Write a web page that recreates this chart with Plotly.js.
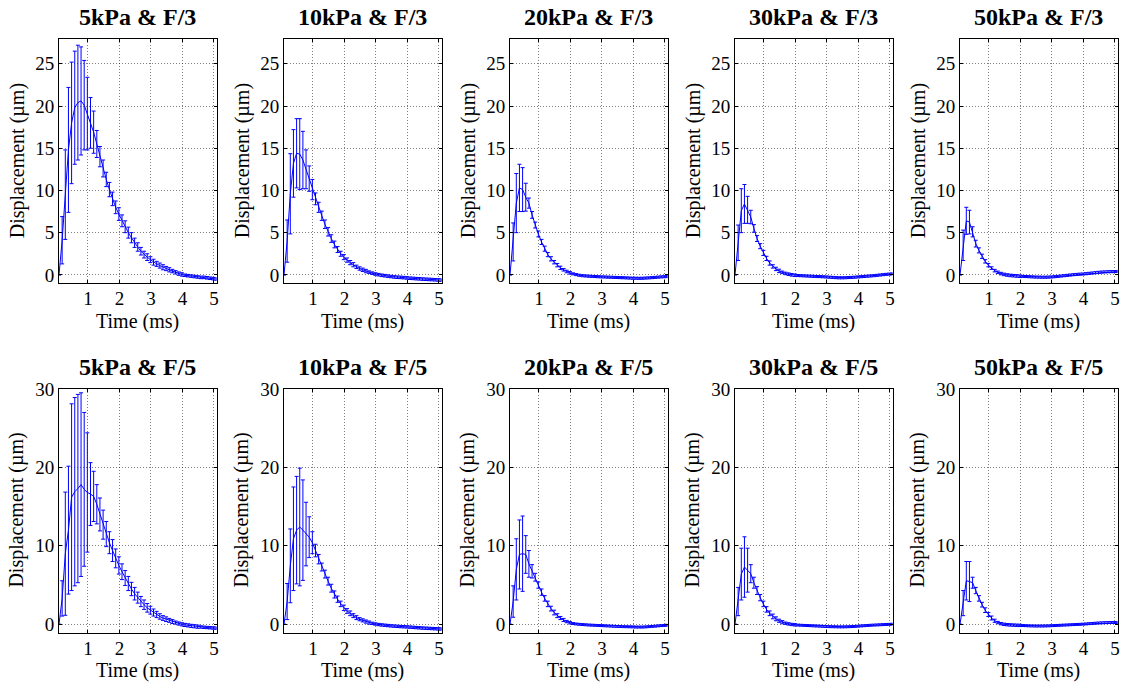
<!DOCTYPE html>
<html>
<head>
<meta charset="utf-8">
<script src="https://cdn.plot.ly/plotly-3.0.1.min.js"></script>
<style>
  html, body { margin: 0; padding: 0; background: #ffffff; }
  #chart { width: 1124px; height: 685px; }
</style>
</head>
<body>
<div id="chart"></div>
<script>
// Sample times (ms)
const timeMs = [0.08, 0.18, 0.28, 0.38, 0.48, 0.58, 0.68, 0.78, 0.88, 0.98,
  1.08, 1.18, 1.28, 1.38, 1.48, 1.58, 1.68, 1.78, 1.88, 1.98,
  2.08, 2.18, 2.28, 2.38, 2.48, 2.58, 2.68, 2.78, 2.88, 2.98,
  3.08, 3.18, 3.28, 3.38, 3.48, 3.58, 3.68, 3.78, 3.88, 3.98,
  4.08, 4.18, 4.28, 4.38, 4.48, 4.58, 4.68, 4.78, 4.88, 4.98, 5.08];

// Mean displacement (µm) and standard deviation, force F/3
const disp5kPaF3 = [0, 4.1, 9.5, 14.8, 18.0, 19.8, 20.4, 20.6, 20.1, 19.1,
  18.0, 16.9, 15.5, 14.0, 12.6, 11.3, 10.1, 9.0, 8.0, 7.2,
  6.4, 5.7, 5.0, 4.4, 3.8, 3.3, 2.8, 2.4, 2.1, 1.8,
  1.5, 1.3, 1.1, 0.9, 0.75, 0.6, 0.45, 0.3, 0.15, 0.05,
  -0.05, -0.1, -0.15, -0.2, -0.25, -0.3, -0.3, -0.35, -0.4, -0.45, -0.5];
const sd5kPaF3 = [0, 2.8, 5.3, 7.4, 7.2, 6.7, 6.8, 6.4, 5.3, 4.3,
  3.0, 2.5, 1.6, 1.2, 1.0, 0.85, 0.85, 0.8, 0.75, 0.75,
  0.7, 0.7, 0.65, 0.6, 0.55, 0.5, 0.45, 0.4, 0.4, 0.35,
  0.35, 0.3, 0.3, 0.3, 0.25, 0.25, 0.2, 0.2, 0.2, 0.2,
  0.15, 0.15, 0.15, 0.15, 0.15, 0.15, 0.15, 0.15, 0.15, 0.15, 0.15];

const disp10kPaF3 = [0, 4.0, 9.6, 13.2, 14.4, 14.3, 13.6, 12.5, 11.4, 10.1,
  9.0, 8.0, 7.0, 6.0, 5.1, 4.3, 3.6, 3.0, 2.5, 2.1,
  1.75, 1.45, 1.2, 0.95, 0.75, 0.6, 0.45, 0.32, 0.2, 0.1,
  0.02, -0.05, -0.1, -0.15, -0.2, -0.25, -0.28, -0.3, -0.33, -0.36,
  -0.4, -0.42, -0.45, -0.47, -0.5, -0.52, -0.54, -0.56, -0.58, -0.6, -0.62];
const sd10kPaF3 = [0, 2.5, 4.75, 4.0, 4.1, 4.2, 3.4, 2.3, 1.5, 1.2,
  0.7, 0.6, 0.55, 0.5, 0.5, 0.45, 0.4, 0.35, 0.3, 0.3,
  0.25, 0.25, 0.25, 0.2, 0.2, 0.2, 0.2, 0.15, 0.15, 0.15,
  0.15, 0.15, 0.15, 0.15, 0.15, 0.15, 0.15, 0.15, 0.15, 0.15,
  0.15, 0.15, 0.15, 0.15, 0.15, 0.15, 0.15, 0.15, 0.15, 0.15, 0.15];

const disp20kPaF3 = [0, 3.9, 8.5, 10.3, 10.1, 9.2, 8.5, 7.1, 5.9, 4.85,
  3.9, 3.1, 2.4, 1.9, 1.5, 1.15, 0.83, 0.6, 0.4, 0.24,
  0.12, 0.03, -0.05, -0.1, -0.13, -0.16, -0.18, -0.2, -0.22, -0.24,
  -0.25, -0.27, -0.28, -0.3, -0.31, -0.33, -0.34, -0.36, -0.38, -0.4,
  -0.4, -0.41, -0.4, -0.38, -0.36, -0.33, -0.3, -0.27, -0.24, -0.22, -0.2];
const sd20kPaF3 = [0, 2.25, 3.5, 2.8, 2.6, 1.65, 0.6, 0.4, 0.35, 0.35,
  0.3, 0.3, 0.25, 0.25, 0.2, 0.2, 0.2, 0.15, 0.15, 0.15,
  0.12, 0.12, 0.12, 0.12, 0.12, 0.12, 0.12, 0.12, 0.12, 0.12,
  0.12, 0.12, 0.12, 0.12, 0.12, 0.12, 0.12, 0.12, 0.12, 0.12,
  0.12, 0.12, 0.12, 0.12, 0.12, 0.12, 0.12, 0.12, 0.12, 0.12, 0.12];

const disp30kPaF3 = [0, 3.8, 7.6, 8.4, 7.7, 6.85, 5.5, 4.3, 3.4, 2.6,
  1.95, 1.4, 1.0, 0.7, 0.47, 0.3, 0.17, 0.08, 0.0, -0.05,
  -0.08, -0.1, -0.12, -0.14, -0.16, -0.18, -0.2, -0.21, -0.23, -0.25,
  -0.28, -0.3, -0.33, -0.35, -0.35, -0.34, -0.32, -0.3, -0.28, -0.25,
  -0.22, -0.19, -0.16, -0.13, -0.1, -0.06, -0.02, 0.02, 0.06, 0.09, 0.12];
const sd30kPaF3 = [0, 2.1, 2.6, 2.3, 1.6, 0.8, 0.45, 0.35, 0.3, 0.3,
  0.25, 0.25, 0.2, 0.2, 0.2, 0.15, 0.15, 0.15, 0.15, 0.15,
  0.12, 0.12, 0.12, 0.12, 0.12, 0.12, 0.12, 0.12, 0.12, 0.12,
  0.12, 0.12, 0.12, 0.12, 0.12, 0.12, 0.12, 0.12, 0.12, 0.12,
  0.12, 0.12, 0.12, 0.12, 0.12, 0.12, 0.12, 0.12, 0.12, 0.12, 0.12];

const disp50kPaF3 = [0, 3.5, 6.4, 6.25, 5.1, 3.7, 2.9, 2.2, 1.6, 1.15,
  0.8, 0.5, 0.3, 0.15, 0.05, -0.02, -0.07, -0.1, -0.13, -0.16,
  -0.18, -0.2, -0.22, -0.24, -0.26, -0.27, -0.28, -0.28, -0.27, -0.25,
  -0.22, -0.18, -0.14, -0.1, -0.06, -0.02, 0.02, 0.05, 0.08, 0.1,
  0.14, 0.18, 0.22, 0.26, 0.3, 0.33, 0.35, 0.37, 0.38, 0.39, 0.4];
const sd50kPaF3 = [0, 1.8, 1.6, 1.4, 0.6, 0.4, 0.3, 0.25, 0.2, 0.2,
  0.15, 0.15, 0.15, 0.15, 0.15, 0.15, 0.15, 0.15, 0.15, 0.15,
  0.12, 0.12, 0.12, 0.12, 0.12, 0.12, 0.12, 0.12, 0.12, 0.12,
  0.12, 0.12, 0.12, 0.12, 0.12, 0.12, 0.12, 0.12, 0.12, 0.12,
  0.12, 0.12, 0.12, 0.12, 0.12, 0.12, 0.12, 0.12, 0.12, 0.12, 0.12];

// Mean displacement (µm) and standard deviation, force F/5
const disp5kPaF5 = [0, 3.3, 9.0, 12.0, 16.2, 16.9, 17.3, 17.8, 17.2, 16.8,
  16.6, 16.3, 15.3, 14.0, 12.7, 11.5, 10.4, 9.4, 8.4, 7.5,
  6.7, 5.9, 5.2, 4.5, 3.9, 3.4, 2.9, 2.5, 2.1, 1.8,
  1.5, 1.25, 1.0, 0.8, 0.65, 0.5, 0.35, 0.22, 0.1, 0.0,
  -0.08, -0.14, -0.2, -0.25, -0.3, -0.34, -0.38, -0.41, -0.44, -0.47, -0.5];
const sd5kPaF5 = [0, 2.25, 7.85, 8.15, 11.9, 12.0, 12.0, 11.7, 9.8, 7.6,
  4.0, 3.2, 2.5, 2.1, 1.85, 1.6, 1.4, 1.4, 1.2, 1.1,
  1.0, 0.95, 0.9, 0.85, 0.8, 0.7, 0.65, 0.6, 0.55, 0.5,
  0.45, 0.4, 0.35, 0.3, 0.3, 0.25, 0.25, 0.2, 0.2, 0.2,
  0.2, 0.2, 0.2, 0.2, 0.2, 0.15, 0.15, 0.15, 0.15, 0.15, 0.15];

const disp10kPaF5 = [0, 2.9, 7.45, 10.9, 12.0, 12.4, 12.0, 11.5, 11.1, 10.4,
  9.4, 8.3, 7.3, 6.4, 5.5, 4.6, 3.8, 3.2, 2.6, 2.1,
  1.7, 1.4, 1.1, 0.85, 0.65, 0.5, 0.35, 0.22, 0.12, 0.04,
  -0.03, -0.08, -0.12, -0.16, -0.2, -0.23, -0.26, -0.29, -0.31, -0.33,
  -0.36, -0.39, -0.42, -0.45, -0.48, -0.5, -0.52, -0.54, -0.56, -0.58, -0.6];
const sd10kPaF5 = [0, 2.3, 4.7, 6.6, 6.85, 7.5, 6.4, 4.05, 2.6, 1.4,
  0.8, 0.6, 0.5, 0.5, 0.5, 0.5, 0.45, 0.4, 0.35, 0.35,
  0.3, 0.3, 0.25, 0.25, 0.2, 0.2, 0.2, 0.2, 0.15, 0.15,
  0.15, 0.15, 0.15, 0.15, 0.15, 0.15, 0.15, 0.15, 0.15, 0.15,
  0.15, 0.15, 0.15, 0.15, 0.15, 0.15, 0.15, 0.15, 0.15, 0.15, 0.15];

const disp20kPaF5 = [0, 2.9, 7.0, 8.9, 9.0, 8.9, 7.7, 6.75, 6.0, 5.0,
  4.1, 3.3, 2.6, 2.0, 1.5, 1.1, 0.8, 0.55, 0.35, 0.2,
  0.1, 0.04, 0.0, -0.03, -0.06, -0.09, -0.11, -0.13, -0.15, -0.17,
  -0.19, -0.21, -0.23, -0.25, -0.27, -0.28, -0.3, -0.31, -0.32, -0.33,
  -0.35, -0.35, -0.35, -0.33, -0.3, -0.27, -0.24, -0.2, -0.17, -0.14, -0.12];
const sd20kPaF5 = [0, 2.0, 3.9, 4.4, 4.8, 2.4, 1.7, 0.85, 0.5, 0.4,
  0.4, 0.35, 0.35, 0.3, 0.3, 0.25, 0.2, 0.2, 0.15, 0.15,
  0.12, 0.12, 0.12, 0.12, 0.12, 0.12, 0.12, 0.12, 0.12, 0.12,
  0.12, 0.12, 0.12, 0.12, 0.12, 0.12, 0.12, 0.12, 0.12, 0.12,
  0.12, 0.12, 0.12, 0.12, 0.12, 0.12, 0.12, 0.12, 0.12, 0.12, 0.12];

const disp30kPaF5 = [0, 2.9, 6.4, 7.3, 6.9, 6.45, 5.3, 4.3, 3.4, 2.6,
  1.9, 1.4, 1.0, 0.7, 0.45, 0.27, 0.14, 0.05, -0.02, -0.06,
  -0.1, -0.12, -0.14, -0.16, -0.18, -0.2, -0.22, -0.24, -0.26, -0.28,
  -0.3, -0.31, -0.32, -0.33, -0.33, -0.32, -0.31, -0.29, -0.27, -0.24,
  -0.21, -0.18, -0.15, -0.12, -0.1, -0.08, -0.06, -0.04, -0.02, 0.0, 0.02];
const sd30kPaF5 = [0, 1.8, 3.3, 3.85, 2.8, 1.15, 0.7, 0.5, 0.4, 0.35,
  0.35, 0.3, 0.3, 0.25, 0.2, 0.2, 0.15, 0.15, 0.15, 0.15,
  0.12, 0.12, 0.12, 0.12, 0.12, 0.12, 0.12, 0.12, 0.12, 0.12,
  0.12, 0.12, 0.12, 0.12, 0.12, 0.12, 0.12, 0.12, 0.12, 0.12,
  0.12, 0.12, 0.12, 0.12, 0.12, 0.12, 0.12, 0.12, 0.12, 0.12, 0.12];

const disp50kPaF5 = [0, 2.7, 5.55, 5.45, 5.3, 4.3, 3.3, 2.5, 1.8, 1.25,
  0.8, 0.45, 0.22, 0.08, 0.0, -0.05, -0.08, -0.1, -0.12, -0.14,
  -0.16, -0.18, -0.2, -0.21, -0.22, -0.22, -0.22, -0.21, -0.2, -0.18,
  -0.16, -0.14, -0.12, -0.1, -0.08, -0.06, -0.04, -0.02, 0.0, 0.02,
  0.05, 0.08, 0.11, 0.14, 0.17, 0.19, 0.21, 0.22, 0.23, 0.23, 0.22];
const sd50kPaF5 = [0, 1.6, 2.45, 2.55, 0.7, 0.4, 0.35, 0.3, 0.3, 0.25,
  0.25, 0.2, 0.15, 0.15, 0.15, 0.15, 0.15, 0.15, 0.15, 0.15,
  0.12, 0.12, 0.12, 0.12, 0.12, 0.12, 0.12, 0.12, 0.12, 0.12,
  0.12, 0.12, 0.12, 0.12, 0.12, 0.12, 0.12, 0.12, 0.12, 0.12,
  0.12, 0.12, 0.12, 0.12, 0.12, 0.12, 0.12, 0.12, 0.12, 0.12, 0.12];

// Panel titles and tick values
const panelTitles = [
  '5kPa & F/3', '10kPa & F/3', '20kPa & F/3', '30kPa & F/3', '50kPa & F/3',
  '5kPa & F/5', '10kPa & F/5', '20kPa & F/5', '30kPa & F/5', '50kPa & F/5'
];
const timeTicks = [1, 2, 3, 4, 5];
const dispTicksF3 = [0, 5, 10, 15, 20, 25];
const dispTicksF5 = [0, 10, 20, 30];
const xTitle = 'Time (ms)';
const yTitle = 'Displacement (\u00b5m)';

const panelMeans = [disp5kPaF3, disp10kPaF3, disp20kPaF3, disp30kPaF3, disp50kPaF3,
  disp5kPaF5, disp10kPaF5, disp20kPaF5, disp30kPaF5, disp50kPaF5];
const panelSds = [sd5kPaF3, sd10kPaF3, sd20kPaF3, sd30kPaF3, sd50kPaF3,
  sd5kPaF5, sd10kPaF5, sd20kPaF5, sd30kPaF5, sd50kPaF5];

// ---- Layout geometry (pixels) ----
const W = 1124, H = 685;
const colLeft = [59, 284, 510, 735, 960];
const plotW = 157.5;
const rowTop = [39.3, 388.5];
const rowBottom = [283.3, 632.7];
const yRanges = [[-1.0, 27.9], [-1.07, 30.05]];

const FONT = 'Liberation Serif, Times New Roman, serif';
const BLUE = '#0000ff';
const GRID = 'rgba(0,0,0,0.5)';

const data = [];
const layout = {
  width: W, height: H,
  margin: {l: 0, r: 0, t: 0, b: 0},
  paper_bgcolor: '#ffffff',
  plot_bgcolor: '#ffffff',
  showlegend: false,
  font: {family: FONT, size: 19, color: '#000000'},
  annotations: []
};

panelTitles.forEach((title, i) => {
  const row = Math.floor(i / 5), col = i % 5;
  const suffix = i === 0 ? '' : String(i + 1);
  const xName = 'xaxis' + suffix, yName = 'yaxis' + suffix;

  data.push({
    type: 'scatter',
    mode: 'lines',
    x: timeMs,
    y: panelMeans[i],
    xaxis: 'x' + suffix,
    yaxis: 'y' + suffix,
    line: {color: BLUE, width: 1},
    error_y: {type: 'data', array: panelSds[i], visible: true,
              color: BLUE, thickness: 1, width: 2},
    hoverinfo: 'x+y'
  });

  const x0 = colLeft[col] / W, x1 = (colLeft[col] + plotW) / W;
  const y0 = 1 - rowBottom[row] / H, y1 = 1 - rowTop[row] / H;

  const common = {
    ticks: 'inside', ticklen: 3, tickcolor: '#000000', tickwidth: 1,
    showline: true, linecolor: '#000000', linewidth: 1, mirror: 'ticks',
    showgrid: true, gridcolor: GRID, gridwidth: 1, griddash: '1px,2px',
    zeroline: false,
    tickfont: {family: FONT, size: 19, color: '#000000'},
    fixedrange: true
  };

  layout[xName] = Object.assign({
    domain: [x0, x1],
    anchor: 'y' + suffix,
    range: [timeMs[0], timeMs[timeMs.length - 1]],
    tickmode: 'array', tickvals: timeTicks,
    ticklabelstandoff: -2
  }, common);
  layout[yName] = Object.assign({
    domain: [y0, y1],
    anchor: 'x' + suffix,
    range: yRanges[row],
    tickmode: 'array', tickvals: row === 0 ? dispTicksF3 : dispTicksF5
  }, common);

  const cx = (colLeft[col] + plotW / 2) / W;
  // Panel title
  layout.annotations.push({
    text: '<b>' + title + '</b>', xref: 'paper', yref: 'paper',
    x: cx, y: 1 - (rowTop[row] - 22) / H,
    xanchor: 'center', yanchor: 'middle', showarrow: false,
    font: {family: FONT, size: 24, color: '#000000'}
  });
  // Horizontal axis title
  layout.annotations.push({
    text: xTitle, xref: 'paper', yref: 'paper',
    x: cx, y: 1 - (rowBottom[row] + 38) / H,
    xanchor: 'center', yanchor: 'middle', showarrow: false,
    borderpad: 0,
    font: {family: FONT, size: 20, color: '#000000'}
  });
  // Vertical axis title
  layout.annotations.push({
    text: yTitle, xref: 'paper', yref: 'paper',
    x: (colLeft[col] - 42) / W, y: 1 - ((rowTop[row] + rowBottom[row]) / 2) / H,
    xanchor: 'center', yanchor: 'middle', showarrow: false, textangle: -90,
    font: {family: FONT, size: 20, color: '#000000'}
  });
});

Plotly.newPlot('chart', data, layout, {displayModeBar: false, staticPlot: true});
</script>
</body>
</html>
